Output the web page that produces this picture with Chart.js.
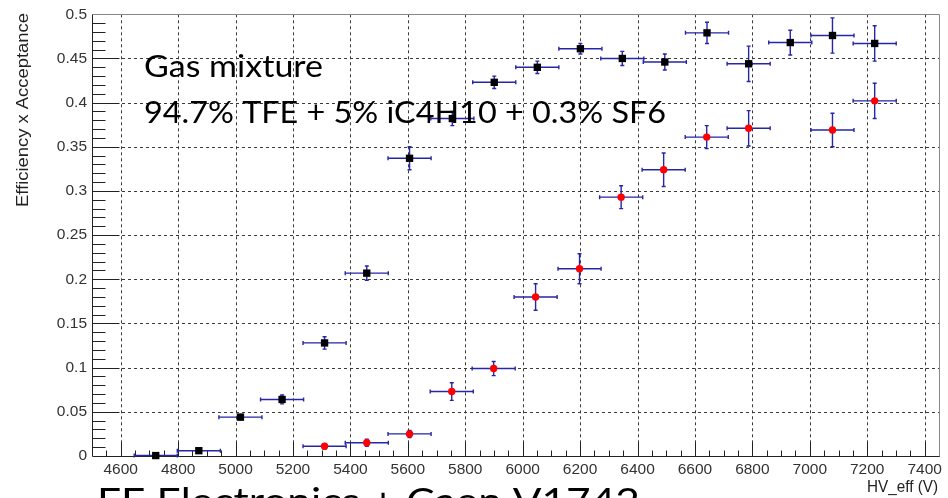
<!DOCTYPE html>
<html>
<head>
<meta charset="utf-8">
<script src="https://cdn.jsdelivr.net/npm/chart.js@4.4.0/dist/chart.umd.min.js"></script>
<style>
html, body { margin: 0; padding: 0; background: #fff; }
#wrap { width: 948px; height: 498px; position: relative; }
</style>
</head>
<body>
<div id="wrap"><canvas id="c"></canvas></div>
<script>
// HV_eff (V) tick labels and efficiency ticks
var xTickValues = [4600, 4800, 5000, 5200, 5400, 5600, 5800, 6000, 6200, 6400, 6600, 6800, 7000, 7200, 7400];
var yTickValues = [0, 0.05, 0.1, 0.15, 0.2, 0.25, 0.3, 0.35, 0.4, 0.45, 0.5];

// black squares
var hvBlack  = [4722, 4872, 5017, 5162, 5310, 5457, 5606, 5755, 5901, 6051, 6201, 6347, 6495, 6642, 6787, 6932, 7079, 7226];
var effBlack = [0.0005, 0.006, 0.044, 0.064, 0.128, 0.207, 0.337, 0.382, 0.423, 0.440, 0.461, 0.450, 0.446, 0.479, 0.444, 0.468, 0.476, 0.467];
var errBlack = [0.001, 0.002, 0.003, 0.005, 0.007, 0.008, 0.013, 0.008, 0.007, 0.007, 0.006, 0.008, 0.009, 0.012, 0.020, 0.014, 0.020, 0.020];

// red circles
var hvRed  = [5310, 5457, 5606, 5753, 5899, 6045, 6198, 6343, 6491, 6641, 6787, 7079, 7226];
var effRed = [0.011, 0.015, 0.025, 0.073, 0.099, 0.180, 0.212, 0.293, 0.324, 0.361, 0.371, 0.369, 0.402];
var errRed = [0.003, 0.004, 0.004, 0.010, 0.008, 0.015, 0.017, 0.013, 0.019, 0.013, 0.020, 0.019, 0.020];

var hvErr = 75;

function toPoints(xs, ys) {
    let pts = [];
    for (let i = 0; i < xs.length; i++) pts.push({x: xs[i], y: ys[i]});
    return pts;
}

var errorSets = [
    {xs: hvBlack, ys: effBlack, es: errBlack},
    {xs: hvRed, ys: effRed, es: errRed}
];

function crisp(v) { return Math.round(v) + 0.5; }

var framePlugin = {
    id: 'frame',
    beforeDatasetsDraw: function(chart) {
        let ctx = chart.ctx;
        let a = chart.chartArea;
        let xs = chart.scales.x, ys = chart.scales.y;
        ctx.save();
        // dashed grid
        ctx.strokeStyle = '#3a3a3a';
        ctx.lineWidth = 1;
        ctx.setLineDash([3, 3]);
        xTickValues.forEach(function(v) {
            let px = crisp(xs.getPixelForValue(v));
            ctx.beginPath(); ctx.moveTo(px, a.top); ctx.lineTo(px, a.bottom); ctx.stroke();
        });
        yTickValues.forEach(function(v) {
            if (v <= 0 || v >= 0.5) return;
            let py = crisp(ys.getPixelForValue(v));
            ctx.beginPath(); ctx.moveTo(a.left, py); ctx.lineTo(a.right, py); ctx.stroke();
        });
        ctx.setLineDash([]);
        // ticks
        ctx.strokeStyle = '#222';
        let bottom = crisp(a.bottom), left = crisp(a.left);
        for (let v = 4550; v <= 7450; v += 50) {
            let px = crisp(xs.getPixelForValue(v));
            let len = (v % 200 === 0) ? 14 : 6;
            ctx.beginPath(); ctx.moveTo(px, bottom); ctx.lineTo(px, bottom - len); ctx.stroke();
        }
        for (let k = 1; k < 50; k++) {
            let py = crisp(ys.getPixelForValue(k / 100));
            let len = (k % 5 === 0) ? 27 : 13;
            ctx.beginPath(); ctx.moveTo(left, py); ctx.lineTo(left + len, py); ctx.stroke();
        }
        // frame
        ctx.strokeStyle = '#888';
        ctx.beginPath();
        ctx.moveTo(left, crisp(a.top)); ctx.lineTo(crisp(a.right), crisp(a.top)); ctx.lineTo(crisp(a.right), bottom);
        ctx.stroke();
        ctx.strokeStyle = '#222';
        ctx.beginPath();
        ctx.moveTo(left, crisp(a.top)); ctx.lineTo(left, bottom); ctx.lineTo(crisp(a.right), bottom);
        ctx.stroke();
        // error bars
        ctx.strokeStyle = 'rgba(38,38,168,1)';
        ctx.lineWidth = 1.4;
        errorSets.forEach(function(s) {
            for (let i = 0; i < s.xs.length; i++) {
                let cx = xs.getPixelForValue(s.xs[i]);
                let cy = ys.getPixelForValue(s.ys[i]);
                let x0 = xs.getPixelForValue(s.xs[i] - hvErr);
                let x1 = xs.getPixelForValue(s.xs[i] + hvErr);
                let y0 = ys.getPixelForValue(s.ys[i] - s.es[i]);
                let y1 = ys.getPixelForValue(s.ys[i] + s.es[i]);
                ctx.beginPath();
                ctx.moveTo(x0, cy); ctx.lineTo(x1, cy);
                ctx.moveTo(x0, cy - 2); ctx.lineTo(x0, cy + 2);
                ctx.moveTo(x1, cy - 2); ctx.lineTo(x1, cy + 2);
                ctx.moveTo(cx, y0); ctx.lineTo(cx, y1);
                ctx.moveTo(cx - 2, y0); ctx.lineTo(cx + 2, y0);
                ctx.moveTo(cx - 2, y1); ctx.lineTo(cx + 2, y1);
                ctx.stroke();
            }
        });
        ctx.restore();
    }
};

function fitText(ctx, text, x, y, width) {
    let w = ctx.measureText(text).width;
    ctx.save();
    ctx.translate(x, y);
    ctx.scale(width / w, 1);
    ctx.fillText(text, 0, 0);
    ctx.restore();
}

var textPlugin = {
    id: 'texts',
    afterDraw: function(chart) {
        let ctx = chart.ctx;
        ctx.save();
        ctx.fillStyle = '#000';
        ctx.textAlign = 'left';
        ctx.textBaseline = 'alphabetic';
        ctx.font = '30px Lato';
        fitText(ctx, 'Gas mixture', 144, 77, 179);
        fitText(ctx, '94.7% TFE + 5% iC4H10 + 0.3% SF6', 144, 123, 522);
        ctx.font = '37px Lato';
        fitText(ctx, 'FE Electronics + Caen V1742', 97, 514, 543);
        // axis titles
        ctx.fillStyle = '#222';
        ctx.font = '16px "Liberation Sans"';
        ctx.textBaseline = 'middle';
        let w = ctx.measureText('HV_eff (V)').width;
        fitText(ctx, 'HV_eff (V)', 938 - 71, 488, 71);
        ctx.translate(24, 13);
        ctx.rotate(-Math.PI / 2);
        fitText(ctx, 'Efficiency x Acceptance', -194, 0, 194);
        ctx.restore();
    }
};

var config = {
    type: 'scatter',
    data: {
        datasets: [{
            label: 'black',
            data: toPoints(hvBlack, effBlack),
            pointStyle: 'rect',
            pointRadius: 5.2,
            backgroundColor: '#000',
            borderColor: '#000',
            borderWidth: 0,
            clip: false
        }, {
            label: 'red',
            data: toPoints(hvRed, effRed),
            pointStyle: 'circle',
            pointRadius: 3.7,
            backgroundColor: '#ff0000',
            borderColor: '#ff0000',
            borderWidth: 0,
            clip: false
        }]
    },
    options: {
        responsive: true,
        maintainAspectRatio: false,
        animation: false,
        layout: {padding: {top: 14, right: 9, left: 0, bottom: 0}},
        plugins: {legend: {display: false}, tooltip: {enabled: false}},
        scales: {
            x: {
                type: 'linear',
                min: 4500,
                max: 7450,
                afterBuildTicks: function(scale) {
                    scale.ticks = xTickValues.map(function(v) { return {value: v}; });
                },
                afterFit: function(scale) { scale.height = 42; },
                grid: {display: false, drawTicks: false},
                border: {display: false},
                ticks: {
                    color: '#333',
                    padding: 4,
                    maxRotation: 0,
                    font: {family: 'Liberation Sans', size: 15.5},
                    callback: function(v) { return String(v); }
                }
            },
            y: {
                type: 'linear',
                min: 0,
                max: 0.5,
                afterBuildTicks: function(scale) {
                    scale.ticks = yTickValues.map(function(v) { return {value: v}; });
                },
                afterFit: function(scale) { scale.width = 92; },
                grid: {display: false, drawTicks: false},
                border: {display: false},
                ticks: {
                    color: '#333',
                    padding: 5,
                    font: {family: 'Liberation Sans', size: 15.5},
                    callback: function(v) { return String(parseFloat(v.toFixed(2))); }
                }
            }
        }
    },
    plugins: [framePlugin, textPlugin]
};

var myChart = new Chart(document.getElementById('c'), config);
</script>
</body>
</html>
